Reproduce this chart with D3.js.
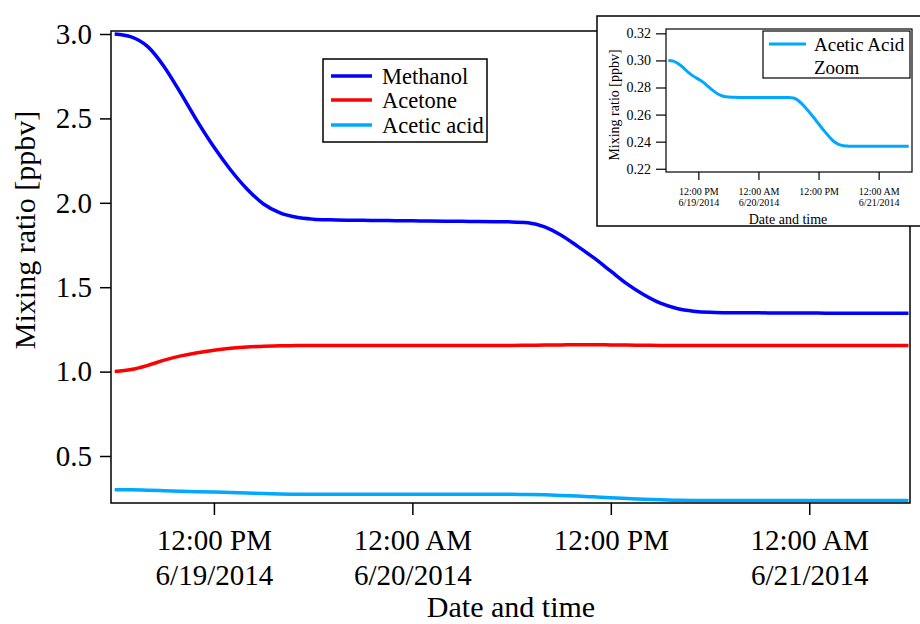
<!DOCTYPE html>
<html>
<head>
<meta charset="utf-8">
<script src="https://cdn.jsdelivr.net/npm/d3@7"></script>
<style>
  html, body { margin: 0; padding: 0; background: #fff; }
  svg { display: block; font-family: "Liberation Serif", "Times New Roman", serif; }
</style>
</head>
<body>
<svg id="chart" width="920" height="624"></svg>
<script>
// Hours after 06:00 on 6/19/2014
const hours = [0,1,2,3,4,5,6,7,8,9,10,11,12,13,14,15,16,17,18,19,20,21,22,23,24,
               25,26,27,28,29,30,31,32,33,34,35,36,37,38,39,40,41,42,43,44,45,46,47,48];

// Mixing ratios [ppbv]
const methanol = [3.000,2.983,2.925,2.805,2.648,2.482,2.330,2.196,2.082,1.993,1.940,1.914,1.903,
                  1.899,1.897,1.896,1.895,1.894,1.893,1.892,1.891,1.890,1.889,1.888,1.887,
                  1.882,1.858,1.808,1.742,1.672,1.595,1.518,1.455,1.405,1.374,1.358,1.351,
                  1.349,1.348,1.348,1.347,1.347,1.347,1.346,1.346,1.346,1.345,1.345,1.345];
const acetone  = [1.000,1.012,1.037,1.068,1.093,1.112,1.127,1.138,1.146,1.150,1.153,1.154,1.155,
                  1.155,1.155,1.155,1.155,1.155,1.155,1.155,1.155,1.155,1.155,1.155,1.155,
                  1.156,1.157,1.158,1.159,1.159,1.158,1.157,1.156,1.155,1.155,1.155,1.155,
                  1.155,1.155,1.155,1.155,1.155,1.155,1.155,1.155,1.155,1.155,1.155,1.155];
const aceticAcid = [0.3000,0.2995,0.2975,0.2946,0.2912,0.2884,0.2862,0.2838,0.2806,0.2775,0.2750,0.2735,0.2729,
                    0.2728,0.2727,0.2727,0.2727,0.2727,0.2727,0.2727,0.2727,0.2727,0.2727,0.2727,0.2727,
                    0.2722,0.2702,0.2667,0.2625,0.2580,0.2532,0.2485,0.2442,0.2403,0.2380,0.2370,0.2367,
                    0.2366,0.2366,0.2366,0.2366,0.2366,0.2366,0.2366,0.2366,0.2366,0.2366,0.2366,0.2366];

const seriesNames  = ["Methanol", "Acetone", "Acetic acid"];
const seriesColors = ["#0000ff", "#ff0000", "#00a8ff"];

const yTicks = [0.5, 1.0, 1.5, 2.0, 2.5, 3.0];
const insetYTicks = [0.22, 0.24, 0.26, 0.28, 0.30, 0.32];
const xTickTimes = [new Date(2014,5,19,12), new Date(2014,5,20,0), new Date(2014,5,20,12), new Date(2014,5,21,0)];
const xTickLabels = [["12:00 PM","6/19/2014"], ["12:00 AM","6/20/2014"], ["12:00 PM",""], ["12:00 AM","6/21/2014"]];

const t0 = new Date(2014,5,19,6,0);
const times = hours.map(h => new Date(t0.getTime() + h * 3600e3));

const svg = d3.select("#chart");

// ---------- main plot ----------
const M = {left: 111, right: 910, top: 31, bottom: 503};
const x = d3.scaleTime()
  .domain([new Date(2014,5,19,5,46,36), new Date(2014,5,21,6,5,30)])
  .range([M.left, M.right]);
const y = d3.scaleLinear().domain([0.2216, 3.0178]).range([M.bottom, M.top]);

const line = (ys, sx, sy) => d3.line()
  .x((d, i) => sx(times[i]))
  .y(d => sy(d))
  .curve(d3.curveMonotoneX)(ys);

const main = svg.append("g");
[methanol, acetone, aceticAcid].forEach((s, k) => {
  main.append("path").attr("d", line(s, x, y))
    .attr("fill", "none").attr("stroke", seriesColors[k])
    .attr("stroke-width", 3.5).attr("stroke-linejoin", "round");
});

main.append("rect")
  .attr("x", M.left).attr("y", M.top)
  .attr("width", M.right - M.left).attr("height", M.bottom - M.top)
  .attr("fill", "none").attr("stroke", "#000").attr("stroke-width", 1.5);

const yAxis = main.append("g").attr("transform", `translate(${M.left},0)`)
  .call(d3.axisLeft(y).tickValues(yTicks).tickFormat(d3.format(".1f"))
    .tickSize(11).tickPadding(8).tickSizeOuter(0));
yAxis.select(".domain").remove();
yAxis.selectAll("line").attr("stroke", "#000").attr("stroke-width", 1.5);
yAxis.selectAll("text").attr("font-size", 29).attr("fill", "#000")
  .attr("font-family", "'Liberation Serif', serif");

const xAxis = main.append("g").attr("transform", `translate(0,${M.bottom})`)
  .call(d3.axisBottom(x).tickValues(xTickTimes).tickFormat("").tickSize(12).tickSizeOuter(0));
xAxis.select(".domain").remove();
xAxis.selectAll("line").attr("stroke", "#000").attr("stroke-width", 1.5);
xAxis.selectAll(".tick").each(function(d, i) {
  const t = d3.select(this).select("text").text(null)
    .attr("font-size", 29).attr("fill", "#000").attr("y", 0).attr("dy", null)
    .attr("font-family", "'Liberation Serif', serif");
  t.append("tspan").attr("x", 0).attr("y", 47).text(xTickLabels[i][0]);
  t.append("tspan").attr("x", 0).attr("y", 82).text(xTickLabels[i][1]);
});

main.append("text").attr("x", 511).attr("y", 617).attr("text-anchor", "middle")
  .attr("font-size", 30).text("Date and time");
main.append("text").attr("transform", "translate(35,230) rotate(-90)")
  .attr("text-anchor", "middle").attr("font-size", 30).text("Mixing ratio [ppbv]");

// legend
const lg = main.append("g");
lg.append("rect").attr("x", 323).attr("y", 59).attr("width", 164).attr("height", 83)
  .attr("fill", "#fff").attr("stroke", "#000").attr("stroke-width", 1.5);
const legendRows = [76, 100, 125];
seriesNames.forEach((name, k) => {
  lg.append("line").attr("x1", 331).attr("x2", 372)
    .attr("y1", legendRows[k]).attr("y2", legendRows[k])
    .attr("stroke", seriesColors[k]).attr("stroke-width", 3.5);
  lg.append("text").attr("x", 382).attr("y", legendRows[k]).attr("dy", "0.35em")
    .attr("font-size", 22.5).text(name);
});

// ---------- inset: acetic acid zoom ----------
const inset = svg.append("g");
inset.append("rect").attr("x", 597).attr("y", 16).attr("width", 340).attr("height", 210)
  .attr("fill", "#fff").attr("stroke", "#000").attr("stroke-width", 1.5);

const I = {left: 666, right: 912, top: 29, bottom: 172};
const xi = d3.scaleTime()
  .domain([new Date(2014,5,19,5,32,24), new Date(2014,5,21,6,39,30)])
  .range([I.left, I.right]);
const yi = d3.scaleLinear().domain([0.2176, 0.3232]).range([I.bottom, I.top]);

inset.append("path").attr("d", line(aceticAcid, xi, yi))
  .attr("fill", "none").attr("stroke", seriesColors[2]).attr("stroke-width", 3);

inset.append("rect")
  .attr("x", I.left).attr("y", I.top)
  .attr("width", I.right - I.left).attr("height", I.bottom - I.top)
  .attr("fill", "none").attr("stroke", "#000").attr("stroke-width", 1.2);

const yiAxis = inset.append("g").attr("transform", `translate(${I.left},0)`)
  .call(d3.axisLeft(yi).tickValues(insetYTicks).tickFormat(d3.format(".2f"))
    .tickSize(10).tickPadding(5).tickSizeOuter(0));
yiAxis.select(".domain").remove();
yiAxis.selectAll("line").attr("stroke", "#000").attr("stroke-width", 1.2);
yiAxis.selectAll("text").attr("font-size", 14).attr("fill", "#000")
  .attr("font-family", "'Liberation Serif', serif");

const xiAxis = inset.append("g").attr("transform", `translate(0,${I.bottom})`)
  .call(d3.axisBottom(xi).tickValues(xTickTimes).tickFormat("").tickSize(8).tickSizeOuter(0));
xiAxis.select(".domain").remove();
xiAxis.selectAll("line").attr("stroke", "#000").attr("stroke-width", 1.2);
xiAxis.selectAll(".tick").each(function(d, i) {
  const t = d3.select(this).select("text").text(null)
    .attr("font-size", 10).attr("fill", "#000").attr("y", 0).attr("dy", null)
    .attr("font-family", "'Liberation Serif', serif");
  t.append("tspan").attr("x", 0).attr("y", 23).text(xTickLabels[i][0]);
  t.append("tspan").attr("x", 0).attr("y", 34).text(xTickLabels[i][1]);
});

inset.append("text").attr("x", 788).attr("y", 224).attr("text-anchor", "middle")
  .attr("font-size", 14).text("Date and time");
inset.append("text").attr("transform", "translate(619,105) rotate(-90)")
  .attr("text-anchor", "middle").attr("font-size", 14).text("Mixing ratio [ppbv]");

const ilg = inset.append("g");
ilg.append("rect").attr("x", 763).attr("y", 31).attr("width", 147).attr("height", 47)
  .attr("fill", "#fff").attr("stroke", "#000").attr("stroke-width", 1.2);
ilg.append("line").attr("x1", 769).attr("x2", 806).attr("y1", 44).attr("y2", 44)
  .attr("stroke", seriesColors[2]).attr("stroke-width", 3);
ilg.append("text").attr("x", 814).attr("y", 44).attr("dy", "0.35em")
  .attr("font-size", 19).text("Acetic Acid");
ilg.append("text").attr("x", 814).attr("y", 67).attr("dy", "0.35em")
  .attr("font-size", 19).text("Zoom");
</script>
</body>
</html>
